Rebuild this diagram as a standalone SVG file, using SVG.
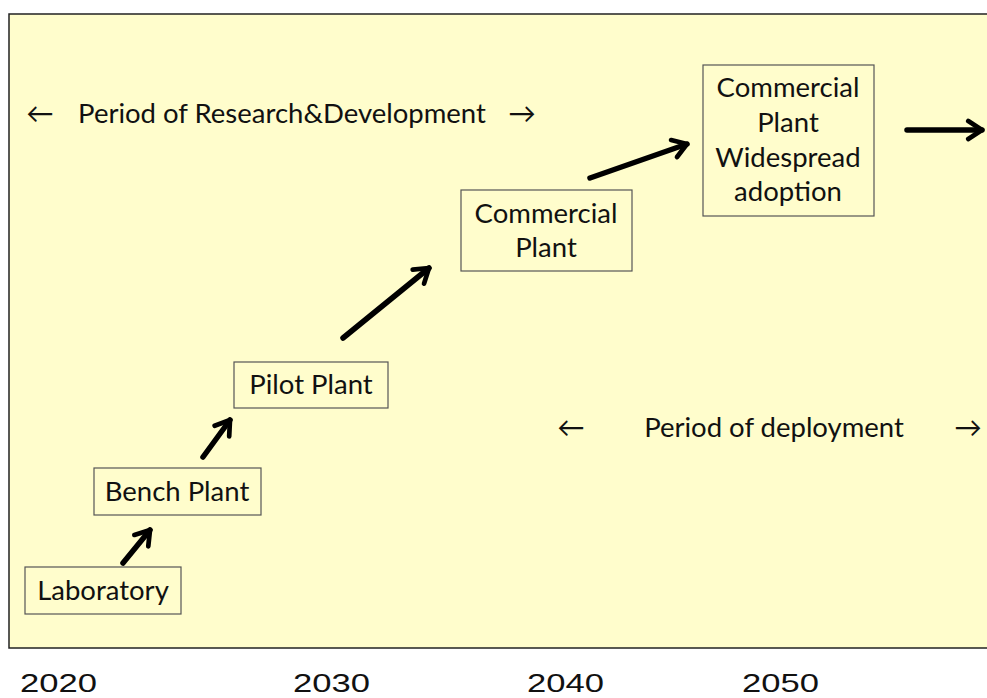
<svg xmlns="http://www.w3.org/2000/svg" width="987" height="698" viewBox="0 0 987 698">
<defs>
<style>
.t{font-family:Lato,"Liberation Sans",sans-serif;font-size:27.5px;fill:#111;text-anchor:middle}
.b{fill:none;stroke:#555;stroke-width:1.2}
.c{fill:none;stroke:#000;stroke-width:5.5;stroke-linecap:round}
.y{font-family:"Liberation Sans",sans-serif;font-size:25px;fill:#111}
</style>
<marker id="ah" viewBox="0 0 10 10" refX="7" refY="5" markerWidth="4.3" markerHeight="4.3" orient="auto" markerUnits="strokeWidth">
<path d="M1.2,1.2 L7,5 L1.2,8.8" fill="none" stroke="#000" stroke-width="2" stroke-linejoin="round" stroke-linecap="round"/>
</marker>
</defs>
<rect width="987" height="698" fill="#fff"/>
<rect x="9" y="14" width="990" height="634" fill="#FFFDCC" stroke="#222" stroke-width="1.5"/>
<g id="labels">
<text class="t" x="40" y="123">←</text>
<text class="t" x="282" y="123">Period of Research&amp;Development</text>
<text class="t" x="522" y="123">→</text>
<text class="t" x="571" y="437">←</text>
<text class="t" x="774" y="437">Period of deployment</text>
<text class="t" x="968" y="437">→</text>
</g>
<g id="n1"><rect class="b" x="25" y="567" width="156" height="47"/><text class="t" x="103" y="600">Laboratory</text></g>
<g id="n2"><rect class="b" x="94" y="468" width="167" height="47"/><text class="t" x="177" y="501">Bench Plant</text></g>
<g id="n3"><rect class="b" x="234" y="362" width="154" height="46"/><text class="t" x="311" y="394">Pilot Plant</text></g>
<g id="n4"><rect class="b" x="461" y="190" width="171" height="81"/><text class="t" x="546" y="223">Commercial</text><text class="t" x="546" y="257">Plant</text></g>
<g id="n5"><rect class="b" x="703" y="65" width="171" height="151"/><text class="t" x="788" y="97">Commercial</text><text class="t" x="788" y="132">Plant</text><text class="t" x="788" y="167">Widespread</text><text class="t" x="788" y="201">adoption</text></g>
<g id="connectors">
<path class="c" marker-end="url(#ah)" d="M123,563 L150,530"/>
<path class="c" marker-end="url(#ah)" d="M203,457 L230,420"/>
<path class="c" marker-end="url(#ah)" d="M343,338 L429,268"/>
<path class="c" marker-end="url(#ah)" d="M590,178 L687,144"/>
<path class="c" marker-end="url(#ah)" d="M907,130 L982,130"/>
</g>
<g id="years">
<text class="y" x="20" y="692" textLength="77" lengthAdjust="spacingAndGlyphs">2020</text>
<text class="y" x="293" y="692" textLength="77" lengthAdjust="spacingAndGlyphs">2030</text>
<text class="y" x="527" y="692" textLength="77" lengthAdjust="spacingAndGlyphs">2040</text>
<text class="y" x="742" y="692" textLength="77" lengthAdjust="spacingAndGlyphs">2050</text>
</g>
</svg>
